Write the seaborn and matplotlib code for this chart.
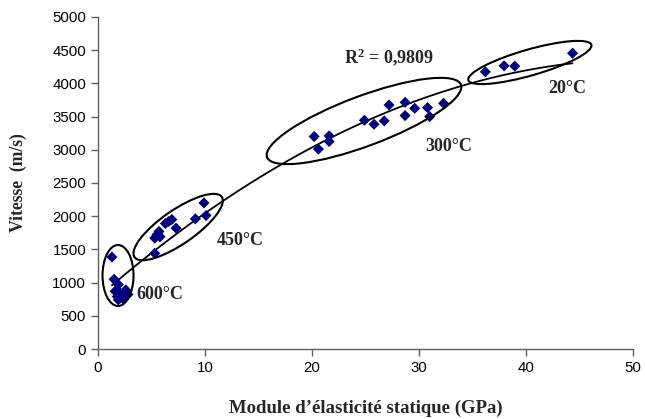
import numpy as np
import pandas as pd
import matplotlib
matplotlib.use("Agg")
import matplotlib.pyplot as plt
import seaborn as sns
from matplotlib.patches import Ellipse
from matplotlib.transforms import ScaledTranslation

# ---- data ----
x_600 = [1.3, 1.5, 1.9, 1.6, 2.6, 2.1, 2.8, 1.8, 2.3, 1.9]
y_600 = [1385, 1050, 970, 870, 890, 840, 820, 790, 760, 740]

x_450 = [5.3, 5.3, 5.5, 5.8, 5.7, 6.3, 6.6, 6.9, 7.3, 9.1, 10.1, 9.9]
y_450 = [1440, 1670, 1720, 1690, 1770, 1890, 1920, 1950, 1820, 1960, 2010, 2200]

x_300 = [20.2, 20.6, 21.6, 21.6, 24.9, 25.8, 26.75, 27.2, 28.7, 28.7, 29.6, 30.8, 31.0, 32.3]
y_300 = [3200, 3010, 3210, 3125, 3445, 3385, 3435, 3675, 3715, 3515, 3625, 3635, 3500, 3700]

x_20 = [36.2, 37.95, 38.95, 44.35]
y_20 = [4175, 4265, 4260, 4455]

group_labels = ["600°C", "450°C", "300°C", "20°C"]
r2_text = r"$\mathbf{R^{2}}$ = 0,9809"
x_label = "Module d\u2019élasticité statique (GPa)"
y_label = "Vitesse  (m/s)"
x_ticks = [0, 10, 20, 30, 40, 50]
y_ticks = [0, 500, 1000, 1500, 2000, 2500, 3000, 3500, 4000, 4500, 5000]

df = pd.DataFrame({
    "E": x_600 + x_450 + x_300 + x_20,
    "V": y_600 + y_450 + y_300 + y_20,
})

sns.set_theme(style="ticks")
plt.rcParams["font.family"] = ["Liberation Sans", "DejaVu Sans"]
plt.rcParams["mathtext.fontset"] = "custom"
plt.rcParams["mathtext.bf"] = "Liberation Serif:bold"
plt.rcParams["mathtext.rm"] = "Liberation Serif"

fig = plt.figure(figsize=(6.45, 4.19), dpi=100)
ax = fig.add_axes([98 / 645, 70 / 419, 535 / 645, 332 / 419])

sns.regplot(data=df, x="E", y="V", order=2, ci=None, scatter=False, ax=ax,
            line_kws=dict(color="black", lw=1.3), truncate=True)
sns.scatterplot(data=df, x="E", y="V", marker="D", s=32, color="#000080",
                edgecolor="none", ax=ax, zorder=3)

ax.set_xlim(0, 50)
ax.set_ylim(0, 5000)
ax.set_xticks(x_ticks)
ax.set_yticks(y_ticks)
ax.tick_params(axis="both", labelsize=10.8, length=5, width=1, color="#606060",
               direction="out", labelcolor="black")
for s in ["top", "right"]:
    ax.spines[s].set_visible(False)
for s in ["left", "bottom"]:
    ax.spines[s].set_color("#606060")
    ax.spines[s].set_linewidth(1)

serif = ["Liberation Serif", "DejaVu Serif"]
ax.set_xlabel(x_label, fontsize=13.5, fontweight="bold", family=serif, labelpad=18)
ax.set_ylabel(y_label, fontsize=12.7, fontweight="bold", family=serif, labelpad=18)

# ellipses (centre in data coords, size in pixels)
ell = [
    ((1.87, 1107), 31, 61, 0),
    ((7.49, 1837), 106, 34, 34.6),
    ((24.86, 3434), 207, 50, 20.5),
    ((40.36, 4315), 128, 26, 16),
]
for (cx, cy), w, h, ang in ell:
    tr = fig.dpi_scale_trans + ScaledTranslation(cx, cy, ax.transData)
    e = Ellipse((0, 0), w / 100, h / 100, angle=ang, transform=tr,
                fill=False, edgecolor="black", lw=1.5, zorder=4)
    ax.add_patch(e)

lab_pos = [(5.8, 828), (13.3, 1627), (32.8, 3057), (43.9, 3916)]
for t, (lx, ly) in zip(group_labels, lab_pos):
    ax.text(lx, ly, t, ha="center", va="center", fontsize=13, fontweight="bold",
            family=serif)
ax.text(27.2, 4398, r2_text, ha="center", va="center", fontsize=13,
        fontweight="bold", family=serif)

fig.savefig("out.png", dpi=100)
